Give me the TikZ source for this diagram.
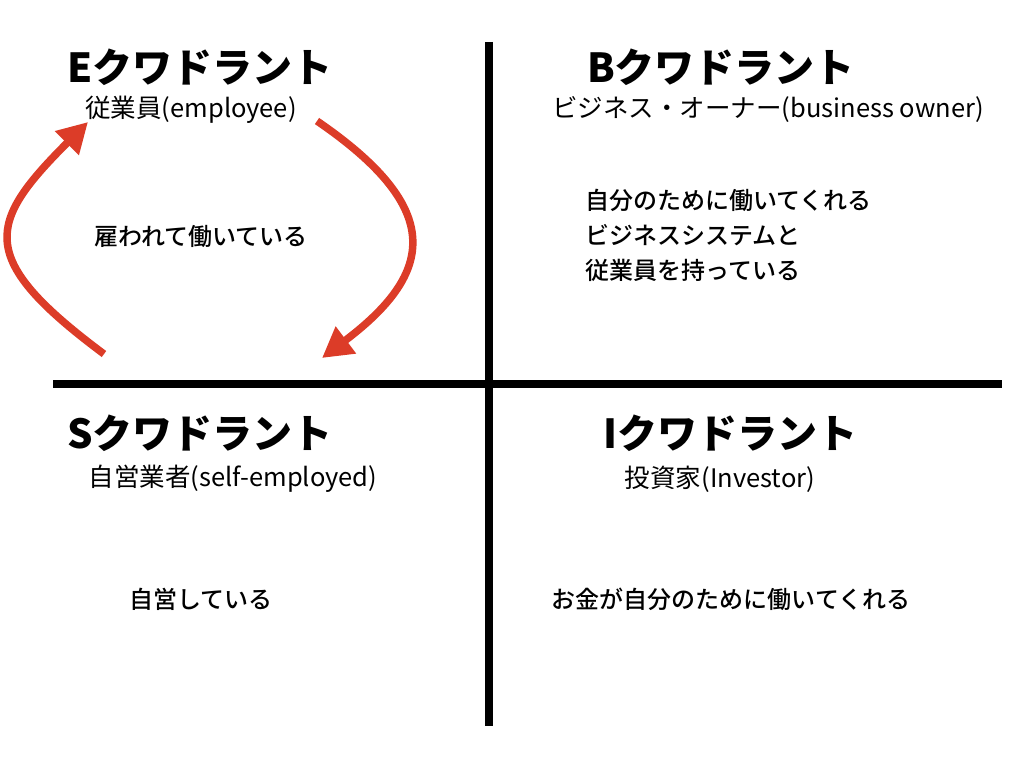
\documentclass[tikz,border=0pt]{standalone}
\usepackage{fontspec}
\setmainfont{Noto Sans CJK JP}
\newfontfamily\jpmedium{Noto Sans CJK JP Medium}
\usetikzlibrary{positioning,arrows.meta}
\definecolor{cyclered}{RGB}{220,60,40}

\begin{document}
\begin{tikzpicture}[x=1pt, y=-1pt, inner sep=0pt, node distance=20pt,
  qtitle/.style={font=\fontsize{40}{40}\selectfont\bfseries},
  qsub/.style={font=\fontsize{25.5}{25.5}\selectfont},
  qbody/.style={font=\fontsize{24}{35}\selectfont\jpmedium, align=left},
  quadline/.style={line width=8pt},
  redarrow/.style={cyclered, line width=7.5pt, -{Triangle[length=30pt,width=32pt]}}]
\useasboundingbox (0,0) rectangle (1024,768);
% axes
\draw[quadline] (489,42) -- (489,726);
\draw[quadline] (53,384) -- (1002,384);
% E
\node (E) [qtitle] at (200,67) {Eクワドラント};
\node (Esub) [qsub] at (191,110) {従業員(employee)};
\node (Ebody) [qbody] at (201,236) {雇われて働いている};
% B
\node (B) [qtitle] at (721,67) {Bクワドラント};
\node (Bsub) [qsub] at (768,109) {ビジネス・オーナー(business owner)};
\node (Bbody) [qbody, anchor=west] at (585,235) {自分のために働いてくれる\\ビジネスシステムと\\従業員を持っている};
% S
\node (S) [qtitle] at (200,433) {Sクワドラント};
\node (Ssub) [qsub] at (233,479) {自営業者(self-employed)};
\node (Sbody) [qbody] at (201,599) {自営している};
% I
\node (I) [qtitle] at (730,433) {Iクワドラント};
\node (Isub) [qsub] at (720,479) {投資家(Investor)};
\node (Ibody) [qbody] at (731,599) {お金が自分のために働いてくれる};
% cycle arrows
\coordinate (Ltail) at (104,354);
\coordinate (Lhead) at (88,122);
\coordinate (Rtail) at (317,121);
\coordinate (Rhead) at (322,358);
\draw[redarrow] (Ltail) .. controls (-25,258) and (-13,223) .. (Lhead);
\draw[redarrow] (Rtail) .. controls (444,208) and (436,272) .. (Rhead);
\end{tikzpicture}
\end{document}
